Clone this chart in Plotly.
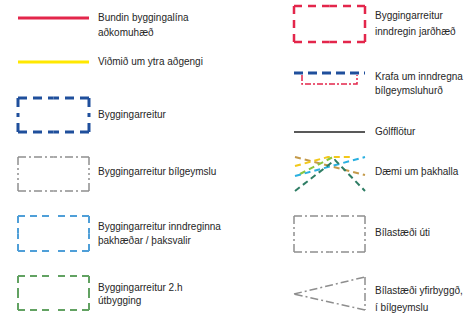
import plotly.graph_objects as go

# ---- legend content (text) ----
left_labels = [
    ["Bundin byggingalína", "aðkomuhæð"],
    ["Viðmið um ytra aðgengi"],
    ["Byggingarreitur"],
    ["Byggingarreitur bílgeymslu"],
    ["Byggingarreitur inndreginna", "þakhæðar / þaksvalir"],
    ["Byggingarreitur 2.h", "útbygging"],
]
right_labels = [
    ["Byggingarreitur", "inndregin jarðhæð"],
    ["Krafa um inndregna", "bílgeymsluhurð"],
    ["Gólfflötur"],
    ["Dæmi um þakhalla"],
    ["Bílastæði úti"],
    ["Bílastæði yfirbyggð,", "í bílgeymslu"],
]

# ---- layout of rows (pixel space of the 472x314 canvas) ----
left_text_y = [18, 62, 115, 172, 227, 288]
left_line_gap = [15, 14, 14, 14, 14, 13]
right_text_y = [16, 77, 132, 172, 233, 291]
right_line_gap = [16, 14, 14, 14, 14, 17]
LX0, LX1, LTX = 18, 89, 98
RX0, RX1, RTX = 294, 365, 375

FONT = dict(family="Liberation Sans, Arial, sans-serif", size=10, color="#262626")

fig = go.Figure()


def add_paths(polylines, color, width, dash, xaxis):
    xs, ys = [], []
    for pl in polylines:
        for x, y in pl:
            xs.append(x)
            ys.append(y)
        xs.append(None)
        ys.append(None)
    fig.add_trace(go.Scatter(
        x=xs, y=ys, mode="lines", connectgaps=False,
        line=dict(color=color, width=width, dash=dash),
        xaxis=xaxis, yaxis="y", hoverinfo="skip", showlegend=False))


def rect(x0, x1, y0, y1):
    xm, ym = (x0 + x1) / 2, (y0 + y1) / 2
    return [[(x0, y0), (xm, y0)], [(x1, y0), (xm, y0)],
            [(x1, y0), (x1, ym)], [(x1, y1), (x1, ym)],
            [(x1, y1), (xm, y1)], [(x0, y1), (xm, y1)],
            [(x0, y1), (x0, ym)], [(x0, y0), (x0, ym)]]


RED = "#e3264b"
DBLUE = "#1f4f9c"
GRAY = "#8e8e8e"
LBLUE = "#4f9fd8"
GREEN = "#62a262"
DASHDOT = "8px,3px,2px,3px"

# left column symbols
add_paths([[(LX0, 18), (LX1, 18)]], RED, 3, "solid", "x")
add_paths([[(LX0, 62), (LX1, 62)]], "#ffe800", 3, "solid", "x")
add_paths(rect(LX0, LX1, 98, 132), DBLUE, 3, "9px,6px", "x")
add_paths(rect(LX0, LX1, 157, 191), GRAY, 1.5, DASHDOT, "x")
add_paths(rect(LX0, LX1, 216, 251), LBLUE, 2, "7px,5px", "x")
add_paths(rect(LX0, LX1, 276, 310), GREEN, 2, "7px,5px", "x")

# right column symbols
add_paths(rect(RX0, RX1, 6, 42), RED, 2.5, "8px,6px", "x2")
add_paths([[(302, 75), (302, 84), (357, 84), (357, 75)]], RED, 1.5, "6px,2px,2px,2px", "x2")
add_paths([[(RX0, 73), (RX1, 73)]], DBLUE, 3, "9px,5px", "x2")
add_paths([[(RX0, 132), (RX1, 132)]], "#222222", 1.5, "solid", "x2")
# roof slope examples
add_paths([[(295, 157), (365, 175)]], "#c49a4a", 2, "6px,4px", "x2")
add_paths([[(295, 166), (328, 157), (352, 157)]], "#f2c81a", 2, "6px,4px", "x2")
add_paths([[(300, 174), (333, 157)]], "#8cc63f", 2, "6px,4px", "x2")
add_paths([[(295, 176), (365, 157)]], "#2ab0e0", 2, "6px,4px", "x2")
add_paths([[(295, 191), (335, 160), (365, 191)]], "#2e7d64", 2, "6px,4px", "x2")
add_paths(rect(RX0, RX1, 216, 252), GRAY, 1.5, DASHDOT, "x2")
add_paths([[(RX0, 294), (RX1, 277)], [(RX1, 277), (RX1, 310)], [(RX1, 310), (RX0, 294)]],
          GRAY, 1.5, DASHDOT, "x2")


def add_texts(labels, ys, gaps, tx, xaxis):
    xs, yy, tt = [], [], []
    for lab, y0, g in zip(labels, ys, gaps):
        for i, line in enumerate(lab):
            xs.append(tx)
            yy.append(y0 + i * g)
            tt.append(line)
    fig.add_trace(go.Scatter(
        x=xs, y=yy, text=tt, mode="text", textposition="middle right",
        textfont=FONT, cliponaxis=True, xaxis=xaxis, yaxis="y",
        hoverinfo="skip", showlegend=False))


add_texts(left_labels, left_text_y, left_line_gap, LTX, "x")
add_texts(right_labels, right_text_y, right_line_gap, RTX, "x2")

fig.update_layout(
    width=472, height=314, autosize=False,
    margin=dict(l=0, r=0, t=0, b=0),
    paper_bgcolor="white", plot_bgcolor="white",
    xaxis=dict(domain=[0, 0.5], range=[0, 236], visible=False, fixedrange=True),
    xaxis2=dict(domain=[0.5, 1], range=[236, 472], visible=False, anchor="y", fixedrange=True),
    yaxis=dict(domain=[0, 1], range=[314, 0], visible=False, fixedrange=True),
)

fig.write_html(
    "out.html",
    config={"displayModeBar": False},
    post_script="document.body.style.margin='0';document.body.style.overflow='hidden';",
)
